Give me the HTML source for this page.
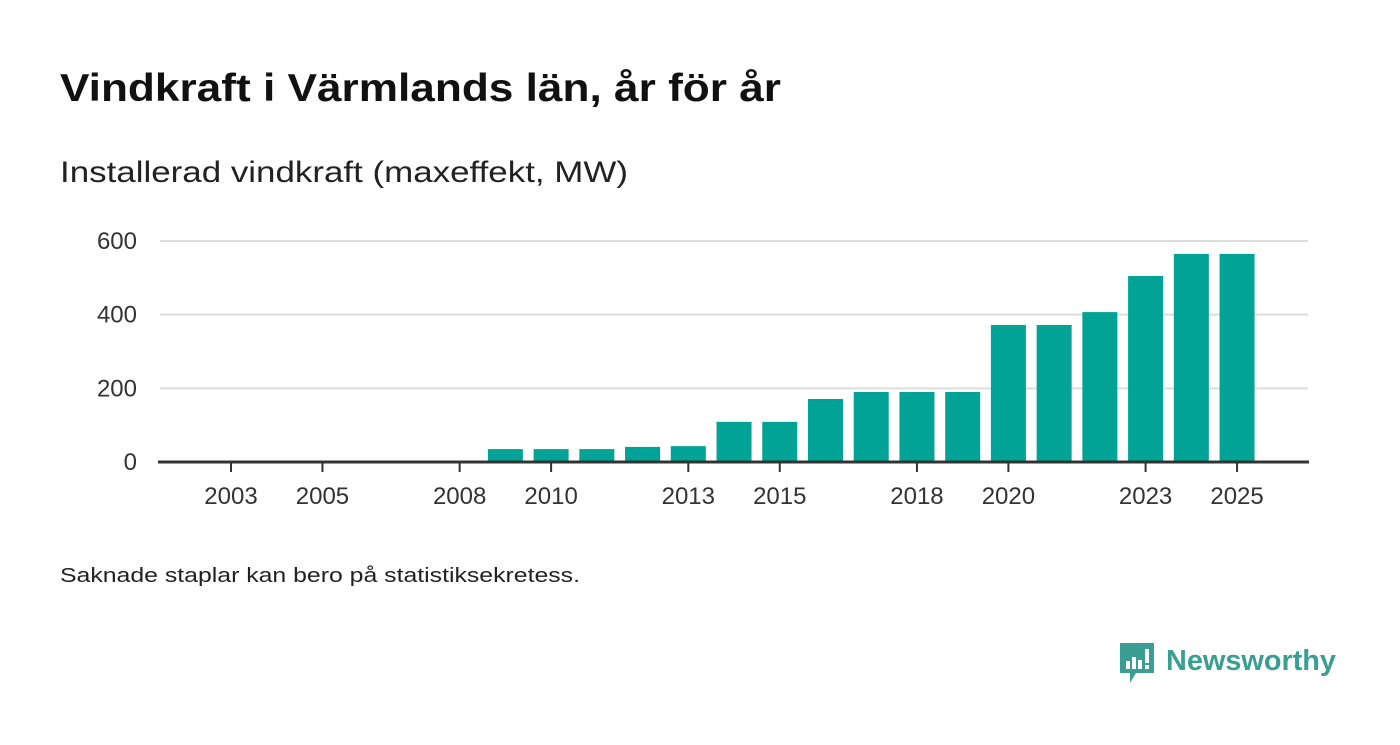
<!DOCTYPE html>
<html><head><meta charset="utf-8"><style>
body{margin:0;background:#fff;font-family:"Liberation Sans",sans-serif;}
#wrap{position:relative;width:1400px;height:745px;overflow:hidden;}
</style></head><body>
<div id="wrap">
<svg id="svg" width="1400" height="745">
<text x="60" y="101" font-size="39" font-weight="bold" fill="#111" textLength="721" lengthAdjust="spacingAndGlyphs">Vindkraft i Värmlands län, år för år</text>
<text x="60" y="182" font-size="30" fill="#222" textLength="568" lengthAdjust="spacingAndGlyphs">Installerad vindkraft (maxeffekt, MW)</text>
<g id="grid"></g><g id="bars"></g><g id="xaxis"></g>
<text x="60" y="582" font-size="20" fill="#222" textLength="520" lengthAdjust="spacingAndGlyphs">Saknade staplar kan bero på statistiksekretess.</text>
<g>
<path d="M1120 643 h34 v30 h-18 l-6 10 v-10 h-10 z" fill="#3a9e93"/>
<rect x="1126" y="661" width="4" height="8" fill="#fff"/><rect x="1132" y="657" width="4" height="12" fill="#fff"/><rect x="1138" y="660" width="4" height="9" fill="#fff"/><rect x="1145" y="649" width="4" height="14" fill="#fff"/><rect x="1145" y="665" width="4" height="4" fill="#fff"/>
<text x="1166" y="670" font-size="29" font-weight="bold" fill="#3a9e93" textLength="170" lengthAdjust="spacingAndGlyphs">Newsworthy</text>
</g>
</svg></div>
<script>
const years=[2009,2010,2011,2012,2013,2014,2015,2016,2017,2018,2019,2020,2021,2022,2023,2024,2025];
const values=[35,35,35,41,43,109,109,171,190,190,190,372,372,407,505,565,565];
const yTicks=[0,200,400,600];
const xTickYears=[2003,2005,2008,2010,2013,2015,2018,2020,2023,2025];
const NS="http://www.w3.org/2000/svg";
const x=y=>231+(y-2003)*45.73;
const yS=v=>462-v*(221/600);
function mk(t,a,p){const e=document.createElementNS(NS,t);for(const k in a)e.setAttribute(k,a[k]);p.appendChild(e);return e;}
const g=document.getElementById('grid'),b=document.getElementById('bars'),xa=document.getElementById('xaxis');
yTicks.forEach(v=>{
 if(v>0){const l=mk('line',{x1:160,x2:1308,y1:yS(v),y2:yS(v),stroke:'#ddd','stroke-width':2},g);
 
 }
 const t=mk('text',{x:137,y:yS(v)+8,'font-size':24,fill:'#333','text-anchor':'end'},g);t.textContent=v;
 
 
});
years.forEach((yr,i)=>{
 const r=mk('rect',{x:x(yr)-17.5,y:yS(values[i]),width:35,height:462-yS(values[i]),fill:'#00a396'},b);
 
 
});
const ax=mk('line',{x1:158,x2:1309,y1:462,y2:462,stroke:'#333','stroke-width':3},xa);


xTickYears.forEach(yr=>{
 mk('line',{x1:x(yr),x2:x(yr),y1:462,y2:472,stroke:'#333','stroke-width':2},xa);
 const t=mk('text',{x:x(yr),y:504,'font-size':24,fill:'#333','text-anchor':'middle'},xa);t.textContent=yr;
 
 
});
</script></body></html>
